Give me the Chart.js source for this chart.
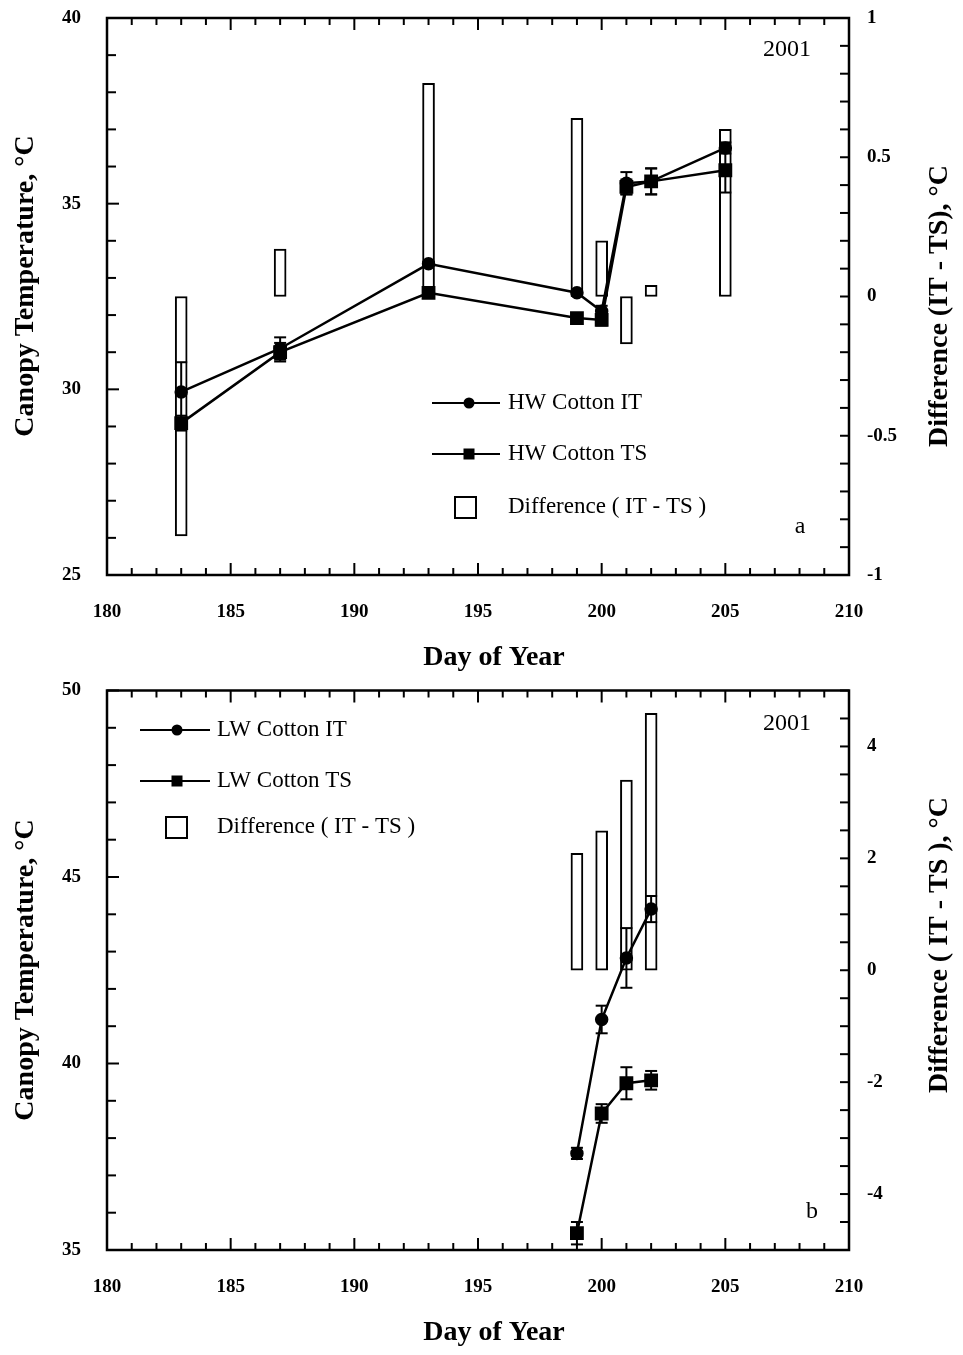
<!DOCTYPE html>
<html>
<head>
<meta charset="utf-8">
<script src="https://cdn.jsdelivr.net/npm/chart.js@4.4.1/dist/chart.umd.min.js"></script>
<style>
html, body { margin: 0; padding: 0; background: #fff; }
#wrap { position: relative; width: 963px; height: 1355px; }
canvas { position: absolute; left: 0; }
</style>
</head>
<body>
<div id="wrap">
  <canvas id="chartA" width="963" height="680" style="top:0"></canvas>
  <canvas id="chartB" width="963" height="675" style="top:680px"></canvas>
</div>
<script>
// axis ticks shared by both panels
const dayTicks = [180, 185, 190, 195, 200, 205, 210];

// panel a: HW cotton
const daysA = [183, 187, 193, 199, 200, 201, 202, 205];
const hwIT = [29.93, 31.1, 33.38, 32.6, 32.1, 35.55, 35.6, 36.5];
const hwITErr = [0.8, 0.3, 0.05, 0.08, 0.15, 0.3, 0.35, 0.15];
const hwTS = [29.09, 31.0, 32.6, 31.92, 31.87, 35.45, 35.6, 35.9];
const hwTSErr = [0.2, 0.25, 0.05, 0.1, 0.15, 0.2, 0.35, 0.6];
const hwDiff = [-0.86, 0.17, 0.765, 0.64, 0.2, -0.17, 0.04, 0.6];
const tempTicksA = [25, 30, 35, 40];
const diffTicksA = [-1, -0.5, 0, 0.5, 1];

// panel b: LW cotton
const daysB = [199, 200, 201, 202];
const lwIT = [37.59, 41.18, 42.83, 44.14];
const lwITErr = [0.15, 0.37, 0.8, 0.35];
const lwTS = [35.45, 38.66, 39.47, 39.55];
const lwTSErr = [0.3, 0.25, 0.43, 0.25];
const lwDiff = [2.09, 2.49, 3.40, 4.59];
const tempTicksB = [35, 40, 45, 50];
const diffTicksB = [-4, -2, 0, 2, 4];

const SERIF = '"Liberation Serif", "Times New Roman", serif';

function drawText(ctx, txt, x, y, font, align, rotate) {
    ctx.save();
    ctx.font = font;
    ctx.fillStyle = '#000';
    ctx.textAlign = align || 'center';
    ctx.textBaseline = 'middle';
    ctx.translate(x, y);
    if (rotate) ctx.rotate(-Math.PI / 2);
    ctx.fillText(txt, 0, 0);
    ctx.restore();
}

function line(ctx, x1, y1, x2, y2) {
    ctx.beginPath();
    ctx.moveTo(x1, y1);
    ctx.lineTo(x2, y2);
    ctx.stroke();
}

// frame, inward ticks, labels, titles, legend and error bars
function panelPlugin(p) {
    return {
        id: 'panel',
        afterDatasetsDraw(chart) {
            const ctx = chart.ctx;
            const xs = chart.scales.x, ys = chart.scales.y;
            ctx.save();
            ctx.strokeStyle = '#000';
            ctx.lineWidth = 2;
            [[p.it, p.itErr], [p.ts, p.tsErr]].forEach(([vals, errs]) => {
                p.days.forEach((d, i) => {
                    const px = xs.getPixelForValue(d);
                    const top = ys.getPixelForValue(vals[i] + errs[i]);
                    const bot = ys.getPixelForValue(vals[i] - errs[i]);
                    line(ctx, px, top, px, bot);
                    line(ctx, px - 6, top, px + 6, top);
                    line(ctx, px - 6, bot, px + 6, bot);
                });
            });
            ctx.restore();
        },
        afterDraw(chart) {
            const ctx = chart.ctx;
            const a = chart.chartArea;
            const xs = chart.scales.x, ys = chart.scales.y, ys2 = chart.scales.y2;
            ctx.save();
            ctx.strokeStyle = '#000';
            ctx.lineWidth = 2.5;
            ctx.strokeRect(a.left, a.top, a.right - a.left, a.bottom - a.top);

            ctx.lineWidth = 2;
            // day ticks, bottom and top
            for (let v = xs.min; v <= xs.max; v += 1) {
                const px = xs.getPixelForValue(v);
                const len = v % 5 === 0 ? 12 : 7;
                line(ctx, px, a.bottom, px, a.bottom - len);
                line(ctx, px, a.top, px, a.top + len);
            }
            // temperature ticks on the left
            for (let v = ys.min; v <= ys.max; v += 1) {
                const py = ys.getPixelForValue(v);
                line(ctx, a.left, py, a.left + (v % 5 === 0 ? 12 : 9), py);
            }
            // difference ticks on the right
            const n = Math.round((ys2.max - ys2.min) / p.diffStep);
            for (let k = 0; k <= n; k++) {
                const py = ys2.getPixelForValue(ys2.min + k * p.diffStep);
                line(ctx, a.right, py, a.right - 9, py);
            }

            const tickFont = 'bold 19px ' + SERIF;
            dayTicks.forEach(v => drawText(ctx, String(v), xs.getPixelForValue(v), a.bottom + 37, tickFont));
            p.tempTicks.forEach(v => drawText(ctx, String(v), a.left - 26, ys.getPixelForValue(v), tickFont, 'right'));
            p.diffTicks.forEach(v => drawText(ctx, String(v), a.right + 18, ys2.getPixelForValue(v), tickFont, 'left'));

            const titleFont = 'bold 28px ' + SERIF;
            drawText(ctx, 'Day of Year', 494, a.bottom + 83, titleFont);
            drawText(ctx, 'Canopy Temperature, °C', 26, p.leftTitleY, titleFont, 'center', true);
            drawText(ctx, p.rightTitle, 940, p.rightTitleY, titleFont, 'center', true);

            const txtFont = '24px ' + SERIF;
            drawText(ctx, '2001', 787, p.yearY, txtFont);
            drawText(ctx, p.tag, p.tagX, p.tagY, txtFont);

            // legend
            const L = p.legend;
            ctx.lineWidth = 2;
            [L.y1, L.y2].forEach((ly, i) => {
                line(ctx, L.x1, ly, L.x2, ly);
                ctx.fillStyle = '#000';
                if (i === 0) {
                    ctx.beginPath();
                    ctx.arc(L.mx, ly, 5.5, 0, Math.PI * 2);
                    ctx.fill();
                } else {
                    ctx.fillRect(L.mx - 5.5, ly - 5.5, 11, 11);
                }
            });
            ctx.strokeRect(L.bx, L.y3 - 10, 21, 21);
            const legFont = '23px ' + SERIF;
            drawText(ctx, p.itName, L.tx, L.y1, legFont, 'left');
            drawText(ctx, p.tsName, L.tx, L.y2, legFont, 'left');
            drawText(ctx, 'Difference ( IT - TS )', L.tx, L.y3, legFont, 'left');
            ctx.restore();
        }
    };
}

function buildChart(id, p) {
    const hidden = {
        grid: { display: false, drawTicks: false },
        border: { display: false },
        ticks: { display: false }
    };
    return new Chart(document.getElementById(id), {
        type: 'line',
        data: {
            datasets: [
                {
                    label: p.itName,
                    type: 'line',
                    data: p.days.map((d, i) => ({ x: d, y: p.it[i] })),
                    yAxisID: 'y',
                    borderColor: '#000',
                    borderWidth: 2.5,
                    pointStyle: 'circle',
                    pointRadius: 5.5,
                    pointBackgroundColor: '#000',
                    pointBorderColor: '#000',
                    order: 1
                },
                {
                    label: p.tsName,
                    type: 'line',
                    data: p.days.map((d, i) => ({ x: d, y: p.ts[i] })),
                    yAxisID: 'y',
                    borderColor: '#000',
                    borderWidth: 2.5,
                    pointStyle: 'rect',
                    pointRadius: 8,
                    pointBackgroundColor: '#000',
                    pointBorderColor: '#000',
                    order: 2
                },
                {
                    label: 'Difference ( IT - TS )',
                    type: 'bar',
                    data: p.days.map((d, i) => ({ x: d, y: [0, p.diff[i]] })),
                    yAxisID: 'y2',
                    backgroundColor: '#fff',
                    borderColor: '#000',
                    borderWidth: 2,
                    borderSkipped: false,
                    barThickness: 12,
                    order: 3
                }
            ]
        },
        options: {
            responsive: false,
            animation: false,
            events: [],
            layout: { padding: { top: p.padTop, left: 0, right: 0, bottom: 0 } },
            plugins: { legend: { display: false }, tooltip: { enabled: false } },
            scales: {
                x: Object.assign({
                    type: 'linear', min: 180, max: 210, offset: false,
                    afterFit(s) { s.height = p.xHeight; }
                }, hidden),
                y: Object.assign({
                    type: 'linear', position: 'left', min: p.yMin, max: p.yMax,
                    afterFit(s) { s.width = 107; }
                }, hidden),
                y2: Object.assign({
                    type: 'linear', position: 'right', min: p.y2Min, max: p.y2Max,
                    afterFit(s) { s.width = 114; }
                }, hidden)
            }
        },
        plugins: [panelPlugin(p)]
    });
}

buildChart('chartA', {
    days: daysA, it: hwIT, itErr: hwITErr, ts: hwTS, tsErr: hwTSErr, diff: hwDiff,
    itName: 'HW Cotton IT', tsName: 'HW Cotton TS',
    yMin: 25, yMax: 40, y2Min: -1, y2Max: 1, diffStep: 0.1,
    tempTicks: tempTicksA, diffTicks: diffTicksA,
    padTop: 18, xHeight: 105,
    leftTitleY: 286, rightTitle: 'Difference (IT - TS), °C', rightTitleY: 306,
    yearY: 50, tag: 'a', tagX: 800, tagY: 527,
    legend: { x1: 432, x2: 500, mx: 469, tx: 508, bx: 455, y1: 403, y2: 454, y3: 507 }
});

buildChart('chartB', {
    days: daysB, it: lwIT, itErr: lwITErr, ts: lwTS, tsErr: lwTSErr, diff: lwDiff,
    itName: 'LW Cotton IT', tsName: 'LW Cotton TS',
    yMin: 35, yMax: 50, y2Min: -5, y2Max: 5, diffStep: 0.5,
    tempTicks: tempTicksB, diffTicks: diffTicksB,
    padTop: 9, xHeight: 105,
    leftTitleY: 290, rightTitle: 'Difference ( IT - TS ), °C', rightTitleY: 265,
    yearY: 44, tag: 'b', tagX: 812, tagY: 532,
    legend: { x1: 140, x2: 210, mx: 177, tx: 217, bx: 166, y1: 50, y2: 101, y3: 147 }
});
</script>
</body>
</html>
